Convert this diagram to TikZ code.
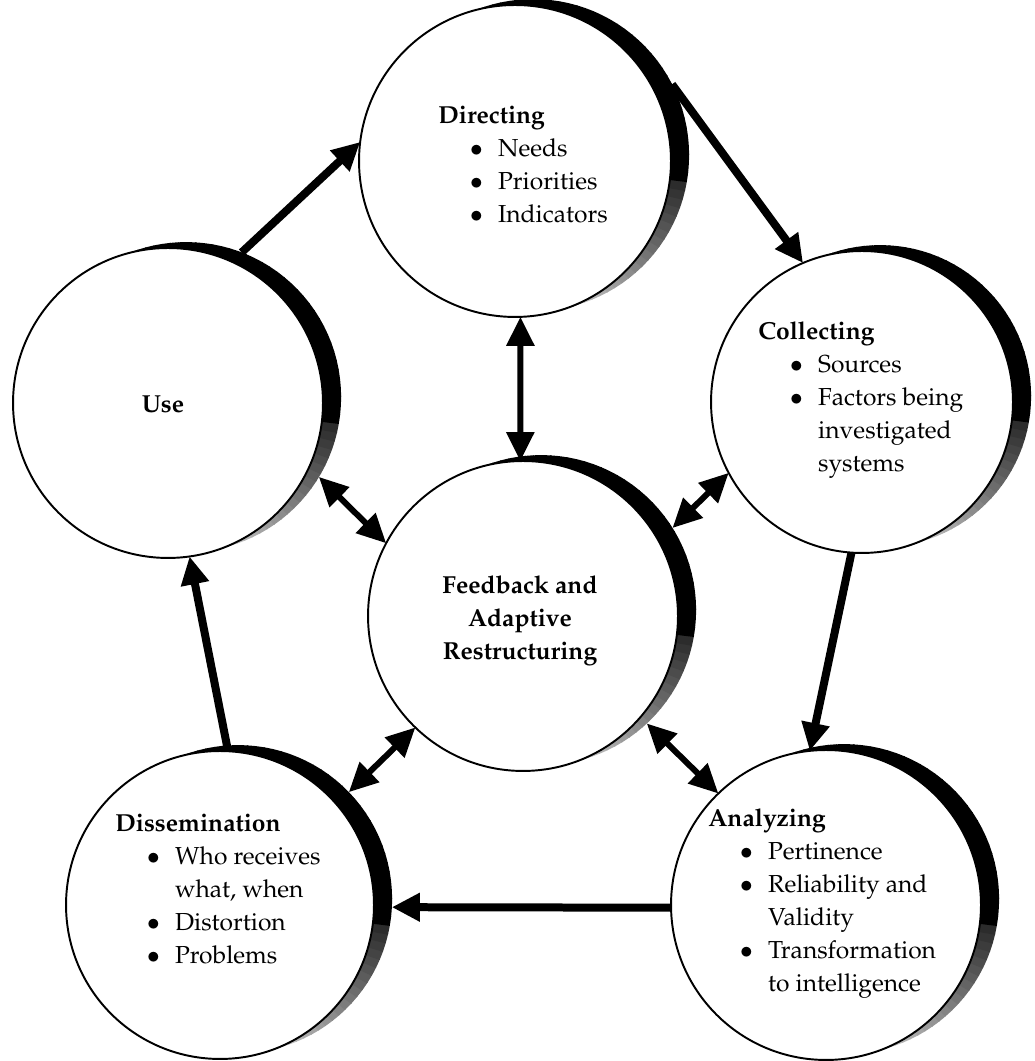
\documentclass[tikz,border=0pt]{standalone}
\usepackage[T1]{fontenc}
\renewcommand{\rmdefault}{ppl}
\usetikzlibrary{arrows.meta}
\tikzset{
  bubble/.style={circle, draw, fill=white, line width=1.1pt, inner sep=0pt, outer sep=0pt, minimum size=#1},
  bubbleshadow/.style={circle, inner sep=0pt, outer sep=0pt, minimum size=#1},
  txt/.style={inner sep=0pt, font=\fontsize{14}{18.76}\selectfont},
  sarrow/.style={line width=0.16cm, -{Triangle[length=0.56cm,width=0.54cm]}},
  darrow/.style={line width=0.12cm, {Triangle[length=0.58cm,width=0.54cm]}-{Triangle[length=0.58cm,width=0.54cm]}},
}
\newcommand{\itm}[1]{\hspace*{18.1pt}\makebox[15.9pt][l]{$\bullet$}#1}
\newcommand{\cnt}[1]{\hspace*{34pt}#1}
% #1 name, #2 x, #3 y, #4 radius (units), #5 diameter
\newcommand{\shadowof}[5]{%
  \begin{scope}
    \clip (#2+18.07,#3+5.87) circle [radius=#4];
    \foreach \a in {-100,-97,...,136}{%
      \pgfmathsetmacro\v{\a>=-8 ? 100 : max(15,85+(\a+8)*1.05)}%
      \fill[black!\v] (#2,#3) -- ({#2+(#4+40)*cos(\a)},{#3+(#4+40)*sin(\a)}) -- ({#2+(#4+40)*cos(\a+3.4)},{#3+(#4+40)*sin(\a+3.4)}) -- cycle;
    }
  \end{scope}
  \node[bubbleshadow=#5] (#1-s) at (#2+18.07,#3+5.87) {};
}
\begin{document}
\begin{tikzpicture}[x=0.02cm,y=0.02cm]
\useasboundingbox (0,0) rectangle (1034,1061);
% shadows
\shadowof{dir}{515}{900}{156}{6.24cm}
\shadowof{col}{862}{659}{151}{6.04cm}
\shadowof{use}{168}{658}{155}{6.2cm}
\shadowof{fb}{523}{445}{155}{6.2cm}
\shadowof{dis}{220}{156}{154}{6.16cm}
\shadowof{ana}{826}{156}{155}{6.2cm}
% circles
\node[bubble=6.24cm] (dir) at (515,900) {};
\node[bubble=6.04cm] (col) at (862,659) {};
\node[bubble=6.2cm] (use) at (168,658) {};
\node[bubble=6.2cm] (fb) at (523,445) {};
\node[bubble=6.16cm] (dis) at (220,156) {};
\node[bubble=6.2cm] (ana) at (826,156) {};
% cycle arrows
\draw[sarrow] (use-s.69) -- (dir.173);
\draw[sarrow] (dir-s.27) -- (col.113);
\draw[sarrow] (col.-94) -- (ana.96);
\draw[sarrow] (ana.181) -- (dis-s.-3);
\draw[sarrow] (dis.87) -- (use.-82);
% feedback arrows
\draw[darrow] (dir.-88) -- (fb.91);
\draw[darrow] (use-s.-31) -- (fb.152);
\draw[darrow] (col.208) -- (fb-s.32);
\draw[darrow] (dis-s.44) -- (fb.-134);
\draw[darrow] (ana.134) -- (fb-s.-47);
% texts
\node[txt, anchor=base west] (dirt) at (438,937) {\begin{tabular}[t]{@{}l@{}}\textbf{Directing}\\ \itm{Needs}\\ \itm{Priorities}\\ \itm{Indicators}\end{tabular}};
\node[txt, anchor=base west] (colt) at (758,721) {\begin{tabular}[t]{@{}l@{}}\textbf{Collecting}\\ \itm{Sources}\\ \itm{Factors being}\\ \cnt{investigated}\\ \cnt{systems}\end{tabular}};
\node[txt, anchor=base] (uset) at (163,648) {\textbf{Use}};
\node[txt, anchor=base] (fbt) at (520,467) {\begin{tabular}[t]{@{}c@{}}\textbf{Feedback and}\\ \textbf{Adaptive}\\ \textbf{Restructuring}\end{tabular}};
\node[txt, anchor=base west] (dist) at (115,229) {\begin{tabular}[t]{@{}l@{}}\textbf{Dissemination}\\ \itm{Who receives}\\ \cnt{what, when}\\ \itm{Distortion}\\ \itm{Problems}\end{tabular}};
\node[txt, anchor=base west] (anat) at (708,234) {\begin{tabular}[t]{@{}l@{}}\textbf{Analyzing}\\ \itm{Pertinence}\\ \itm{Reliability and}\\ \cnt{Validity}\\ \itm{Transformation}\\ \cnt{to intelligence}\end{tabular}};
\end{tikzpicture}
\end{document}
